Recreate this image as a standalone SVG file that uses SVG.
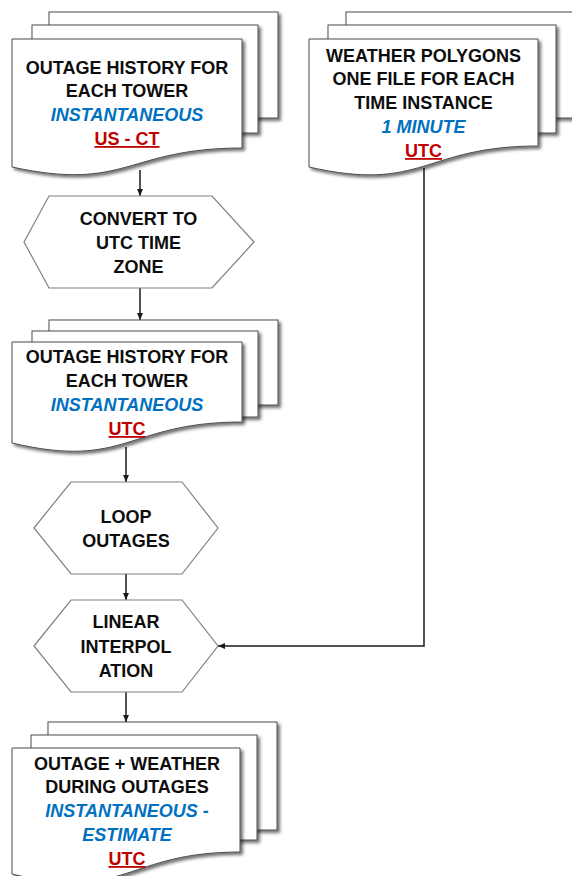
<svg xmlns="http://www.w3.org/2000/svg" width="572" height="876" viewBox="0 0 572 876">
<defs>
<filter id="sh" x="-10%" y="-10%" width="125%" height="130%">
<feDropShadow dx="2.5" dy="2.5" stdDeviation="1.5" flood-color="#000" flood-opacity="0.55"/>
</filter>
<marker id="arr" markerUnits="userSpaceOnUse" markerWidth="8" markerHeight="8" viewBox="0 0 8 8" refX="7" refY="4" orient="auto">
<path d="M0,1 L7,4 L0,7 Z" fill="#1a1a1a"/>
</marker>
</defs>
<style>
.pg{fill:#fff;stroke:#4d4d4d;stroke-width:1;filter:url(#sh)}
.hx{fill:#fff;stroke:#808080;stroke-width:1.2}
.t{font-family:"Liberation Sans",Arial,sans-serif;font-weight:bold;font-size:18px;text-anchor:middle;fill:#0d0d0d}
.b{fill:#0070C0;font-style:italic}
.r{fill:#C00000;text-decoration:underline}
.c{fill:none;stroke:#1a1a1a;stroke-width:1.5;marker-end:url(#arr)}
</style>
<g id="connectors">
<path class="c" d="M140,170 V196"/>
<path class="c" d="M140,288 V320"/>
<path class="c" d="M126,447 V482"/>
<path class="c" d="M126,574 V600"/>
<path class="c" d="M126,692 V722"/>
<path class="c" d="M424,168 V646 H218"/>
</g>
<g id="outage-history-ct">
<rect class="pg" x="49" y="12" width="229" height="106"/>
<rect class="pg" x="32" y="25" width="226" height="108"/>
<path class="pg" d="M12,39 H242 V148 C127,148 127,192 12,167 Z"/>
<text class="t" x="127" y="74">OUTAGE HISTORY FOR</text>
<text class="t" x="127" y="97">EACH TOWER</text>
<text class="t b" x="127" y="121">INSTANTANEOUS</text>
<text class="t r" x="127" y="145">US - CT</text>
</g>
<g id="weather-polygons">
<rect class="pg" x="346" y="12" width="240" height="106"/>
<rect class="pg" x="328" y="25" width="228" height="108"/>
<path class="pg" d="M309,39 H538 V146 C423.5,146 423.5,193 309,167 Z"/>
<text class="t" x="423.5" y="62">WEATHER POLYGONS</text>
<text class="t" x="423.5" y="85">ONE FILE FOR EACH</text>
<text class="t" x="423.5" y="109">TIME INSTANCE</text>
<text class="t b" x="423.5" y="133">1 MINUTE</text>
<text class="t r" x="423.5" y="157">UTC</text>
</g>
<g id="convert-utc">
<polygon class="hx" points="24,242 49,196 212,196 254,242 212,288 49,288"/>
<text class="t" x="138.5" y="225">CONVERT TO</text>
<text class="t" x="138.5" y="249">UTC TIME</text>
<text class="t" x="138.5" y="273">ZONE</text>
</g>
<g id="outage-history-utc">
<rect class="pg" x="49" y="320" width="229" height="85"/>
<rect class="pg" x="32" y="331" width="226" height="86"/>
<path class="pg" d="M12,342 H242 V422 C127,422 127,470 12,443 Z"/>
<text class="t" x="127" y="363">OUTAGE HISTORY FOR</text>
<text class="t" x="127" y="387">EACH TOWER</text>
<text class="t b" x="127" y="411">INSTANTANEOUS</text>
<text class="t r" x="127" y="435">UTC</text>
</g>
<g id="loop-outages">
<polygon class="hx" points="34,528 71,482 182,482 218,528 182,574 71,574"/>
<text class="t" x="126" y="523">LOOP</text>
<text class="t" x="126" y="547">OUTAGES</text>
</g>
<g id="linear-interpolation">
<polygon class="hx" points="34,646 71,600 182,600 218,646 182,692 71,692"/>
<text class="t" x="126" y="628">LINEAR</text>
<text class="t" x="126" y="653">INTERPOL</text>
<text class="t" x="126" y="677">ATION</text>
</g>
<g id="outage-weather">
<rect class="pg" x="48" y="722" width="229" height="108"/>
<rect class="pg" x="31" y="735" width="226" height="105"/>
<path class="pg" d="M12,748 H240 V852 C126,852 126,902 12,874 Z"/>
<text class="t" x="127" y="770">OUTAGE + WEATHER</text>
<text class="t" x="127" y="793">DURING OUTAGES</text>
<text class="t b" x="127" y="817">INSTANTANEOUS -</text>
<text class="t b" x="127" y="841">ESTIMATE</text>
<text class="t r" x="127" y="865">UTC</text>
</g>
</svg>
